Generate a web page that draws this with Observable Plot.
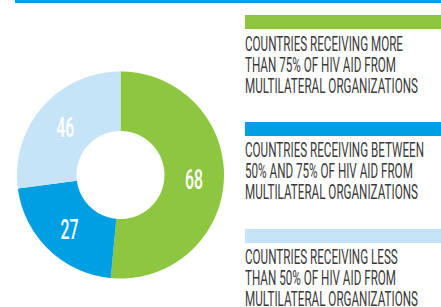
<!DOCTYPE html>
<html>
<head>
<meta charset="utf-8">
<script src="https://cdn.jsdelivr.net/npm/d3@7"></script>
<script src="https://cdn.jsdelivr.net/npm/@observablehq/plot@0.6"></script>
<style>
  html, body { margin: 0; padding: 0; background: #fff; }
  #wrap { position: relative; width: 441px; height: 307px; overflow: hidden; font-family: Roboto, "Liberation Sans", sans-serif; }
  #topline { position: absolute; left: 15px; top: 0; width: 426px; height: 2.5px; background: #009FE3; }
  .bar { position: absolute; left: 245px; width: 196px; height: 14px; }
  .lg { position: absolute; left: 245px; font-size: 19.5px; color: #3a3a3a; white-space: nowrap; }
  .lg span { display: block; height: 16px; line-height: 16px; margin-bottom: 5px; transform-origin: 0 0; }
  .lg span:last-child { margin-bottom: 0; }
</style>
</head>
<body>
<div id="wrap"></div>
<script>
// ---- data ----
const categories = ["more75", "between50and75", "less50"];
const counts = [68, 27, 46];
// share of the full circle (%) each slice spans in the reference drawing
const arcShares = [51.5, 21.4, 27.1];
const colors = ["#8DC63F", "#009FE3", "#C6E4F7"];
const legendLines = [
  ["COUNTRIES RECEIVING MORE", "THAN 75% OF HIV AID FROM", "MULTILATERAL ORGANIZATIONS"],
  ["COUNTRIES RECEIVING BETWEEN", "50% AND 75% OF HIV AID FROM", "MULTILATERAL ORGANIZATIONS"],
  ["COUNTRIES RECEIVING LESS", "THAN 50% OF HIV AID FROM", "MULTILATERAL ORGANIZATIONS"]
];
const innerRatio = 0.425;

// ---- build slices ----
const pie = d3.pie().sort(null).value((d) => d.share)(
  categories.map((key, i) => ({key, count: counts[i], share: arcShares[i]}))
);
const ringPoints = [];
const labelPoints = [];
for (const a of pie) {
  const n = 120;
  for (let j = 0; j <= n; j++) {
    const t = a.startAngle + (a.endAngle - a.startAngle) * j / n;
    ringPoints.push({key: a.data.key, x: Math.sin(t), y: Math.cos(t)});
  }
  for (let j = n; j >= 0; j--) {
    const t = a.startAngle + (a.endAngle - a.startAngle) * j / n;
    ringPoints.push({key: a.data.key, x: innerRatio * Math.sin(t), y: innerRatio * Math.cos(t)});
  }
  const m = (a.startAngle + a.endAngle) / 2;
  const rl = 0.71;
  labelPoints.push({key: a.data.key, count: a.data.count, x: rl * Math.sin(m), y: rl * Math.cos(m)});
}

const chart = Plot.plot({
  width: 441,
  height: 307,
  margin: 0,
  x: {domain: [-1, 1], range: [16.5, 223.5], axis: null},
  y: {domain: [-1, 1], range: [278, 71], axis: null},
  color: {domain: categories, range: colors},
  marks: [
    Plot.line(ringPoints, {x: "x", y: "y", z: "key", fill: "key", stroke: "none", curve: "linear"}),
    Plot.text(labelPoints, {x: "x", y: "y", text: (d) => String(d.count), fill: "white",
      fontSize: 27, fontWeight: 500, fontFamily: "Roboto", textAnchor: "middle", dy: 2})
  ]
});
chart.style.position = "absolute";
chart.style.left = "0";
chart.style.top = "0";
chart.querySelectorAll('g[aria-label="text"] text').forEach((t) => {
  t.setAttribute("textLength", "18");
  t.setAttribute("lengthAdjust", "spacingAndGlyphs");
});

const wrap = document.getElementById("wrap");
wrap.appendChild(chart);
const topLine = document.createElement("div");
topLine.id = "topline";
wrap.appendChild(topLine);

// legend
const barTops = [15, 122, 229];
const textTops = [37.3, 143.3, 249.5];
const ctx = document.createElement("canvas").getContext("2d");
ctx.font = "19.5px Roboto";
const k = 158 / ctx.measureText(legendLines[0][0]).width;
categories.forEach((c, i) => {
  const b = document.createElement("div");
  b.className = "bar";
  b.style.top = barTops[i] + "px";
  b.style.background = colors[i];
  wrap.appendChild(b);
  const lg = document.createElement("div");
  lg.className = "lg";
  lg.style.top = textTops[i] + "px";
  for (const line of legendLines[i]) {
    const s = document.createElement("span");
    s.textContent = line;
    s.style.transform = `scaleX(${k})`;
    lg.appendChild(s);
  }
  wrap.appendChild(lg);
});
</script>
</body>
</html>
